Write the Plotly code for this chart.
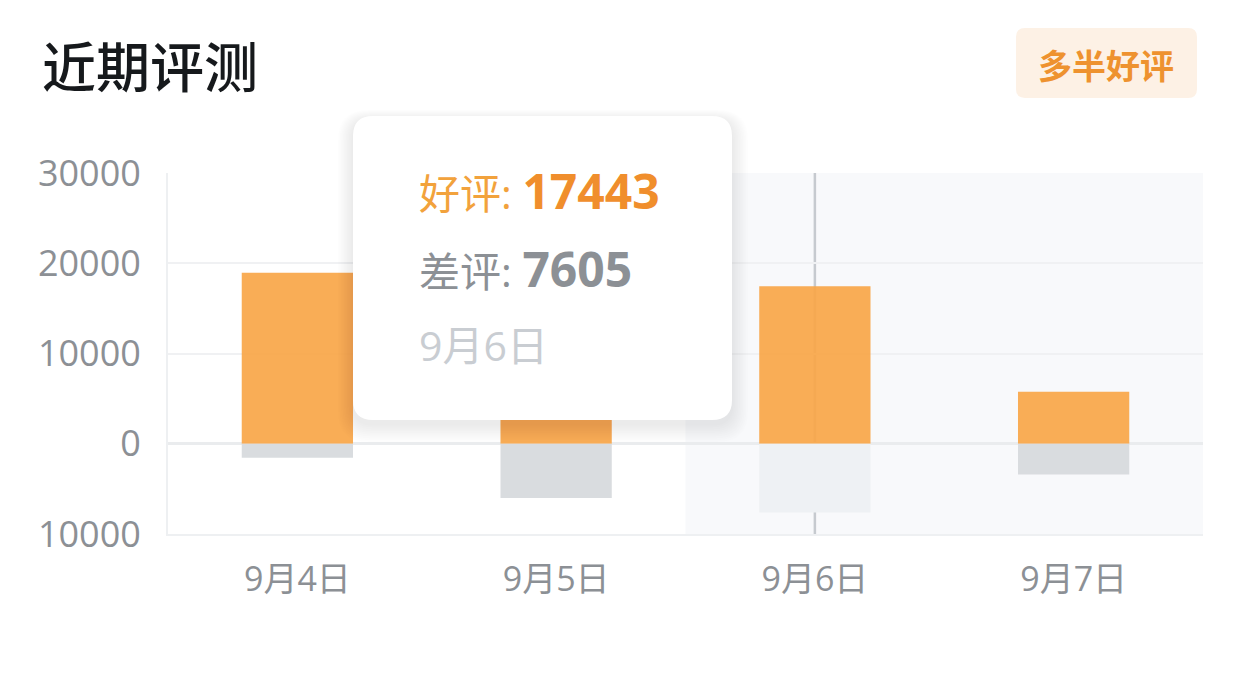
import plotly.graph_objects as go

# --- data ---
dates = ["9月4日", "9月5日", "9月6日", "9月7日"]
good_reviews = [18950, 12000, 17443, 5750]
bad_reviews = [1560, 6000, 7605, 3400]
y_ticks = [30000, 20000, 10000, 0, -10000]
y_tick_labels = ["30000", "20000", "10000", "0", "10000"]
selected = 2  # day shown in the tooltip

# --- page geometry (page pixels; the browser puts the figure 8px in) ---
OFF = 8
W, H = 1236 - 2 * OFF, 676 - 2 * OFF
PL, PR, PT, PB = 168, 1203, 173, 534

NUM_FONT = "Open Sans, Noto Sans CJK SC"
CJK_FONT = "Noto Sans CJK SC"


def px_x(x):
    return (x - PL) / (PR - PL)


def px_y(y):
    return (PB - y) / (PB - PT)


def round_rect(x0, y0, x1, y1, r):
    # rounded rectangle given in pixels -> svg path in paper units
    def p(x, y):
        return f"{px_x(x):.5f},{px_y(y):.5f}"
    return (f"M{p(x0 + r, y0)} L{p(x1 - r, y0)} Q{p(x1, y0)} {p(x1, y0 + r)} "
            f"L{p(x1, y1 - r)} Q{p(x1, y1)} {p(x1 - r, y1)} "
            f"L{p(x0 + r, y1)} Q{p(x0, y1)} {p(x0, y1 - r)} "
            f"L{p(x0, y0 + r)} Q{p(x0, y0)} {p(x0 + r, y0)} Z")


fig = go.Figure()

fig.add_trace(go.Bar(
    x=dates, y=good_reviews, name="好评",
    marker=dict(color="rgba(248,166,72,0.92)", line=dict(width=0)),
    width=0.43,
))
bad_colors = ["#eef1f4" if i == selected else "#d9dcdf" for i in range(len(dates))]
fig.add_trace(go.Bar(
    x=dates, y=[-v for v in bad_reviews], name="差评",
    marker=dict(color=bad_colors, line=dict(width=0)),
    width=0.43,
))

shapes = []
# hover band behind the selected day
shapes.append(dict(type="rect", xref="x", yref="paper", x0=selected - 0.5, x1=len(dates) - 0.5,
                   y0=0, y1=1, fillcolor="#f8f9fb", line=dict(width=0), layer="below"))
# crosshair
shapes.append(dict(type="line", xref="x", yref="paper", x0=dates[selected], x1=dates[selected],
                   y0=0, y1=1, line=dict(color="#c6cacf", width=2.5), layer="between"))

# tooltip shadow + box
for i in range(10, 0, -1):
    shapes.append(dict(type="path", xref="paper", yref="paper",
                       path=round_rect(353 - i * 1.5, 116 - i * 1.0 + 4, 732 + i * 1.6, 420 + i * 1.8 + 4, 20 + i),
                       fillcolor="rgba(0,0,0,0.009)", line=dict(width=0), layer="above"))
shapes.append(dict(type="path", xref="paper", yref="paper", path=round_rect(353, 116, 732, 420, 20),
                   fillcolor="#ffffff", line=dict(width=0), layer="above"))

# badge
shapes.append(dict(type="path", xref="paper", yref="paper", path=round_rect(1016, 28, 1197, 98, 9),
                   fillcolor="#fdf1e5", line=dict(width=0), layer="above"))

annotations = [
    dict(text="近期评测", x=px_x(40), y=px_y(64), xanchor="left", yanchor="middle",
         font=dict(family=CJK_FONT, size=54, color="#16191c", weight=500)),
    dict(text="<b>多半好评</b>", x=px_x(1106), y=px_y(64), xanchor="center", yanchor="middle",
         font=dict(family=CJK_FONT, size=34, color="#ee922f")),
    dict(text=f"<span style='color:#f2a23c'>好评: </span>"
              f"<b style='font-size:48px'>{good_reviews[selected]}</b>",
         x=px_x(417), y=px_y(190), xanchor="left", yanchor="middle",
         font=dict(family=NUM_FONT, size=41, color="#f08e2c")),
    dict(text=f"差评: <b style='font-size:48px'>{bad_reviews[selected]}</b>",
         x=px_x(417), y=px_y(268), xanchor="left", yanchor="middle",
         font=dict(family=NUM_FONT, size=41, color="#8c9095")),
    dict(text=dates[selected],
         x=px_x(417), y=px_y(345), xanchor="left", yanchor="middle",
         font=dict(family=NUM_FONT, size=41, color="#c9cdd2")),
]
for a in annotations:
    a.update(xref="paper", yref="paper", showarrow=False)

fig.update_layout(
    width=W, height=H,
    margin=dict(l=PL - OFF, r=W - (PR - OFF), t=PT - OFF, b=H - (PB - OFF), pad=0),
    paper_bgcolor="#ffffff", plot_bgcolor="#ffffff",
    barmode="relative", showlegend=False,
    shapes=shapes, annotations=annotations,
    font=dict(family=NUM_FONT, color="#8c9095"),
)
fig.update_xaxes(
    showgrid=False, showline=True, linecolor="#eef0f2", linewidth=2,
    ticks="", ticklabelstandoff=14,
    tickfont=dict(family=NUM_FONT, size=34, color="#8c9095"),
)
fig.update_yaxes(
    range=[-10000, 30000], tickvals=y_ticks, ticktext=y_tick_labels,
    showgrid=True, gridcolor="#f0f1f3", gridwidth=1.5,
    zeroline=True, zerolinecolor="#eaecee", zerolinewidth=2.5,
    showline=True, linecolor="#eef0f2", linewidth=2,
    ticks="", ticklabelstandoff=18,
    tickfont=dict(family=NUM_FONT, size=36, color="#8c9095"),
)

fig.write_html("out.html")
